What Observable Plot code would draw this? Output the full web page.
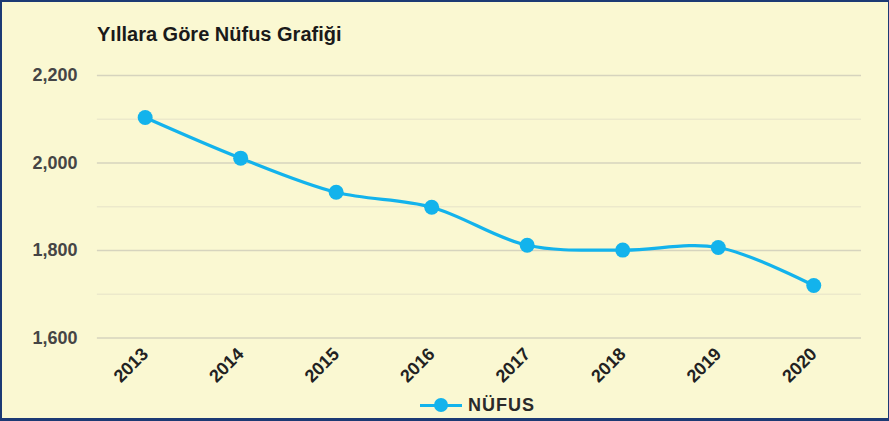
<!DOCTYPE html>
<html>
<head>
<meta charset="utf-8">
<script src="https://cdn.jsdelivr.net/npm/d3@7"></script>
<script src="https://cdn.jsdelivr.net/npm/@observablehq/plot@0.6"></script>
<style>
  html, body { margin: 0; padding: 0; background: #fff; }
  #frame {
    position: relative; width: 889px; height: 421px; box-sizing: border-box;
    background: #FAF8D2; border-top: 2px solid #1c3a74; border-left: 2px solid #1c3a74;
    border-bottom: 3px solid #1c3a74; border-right: 1px solid #1c3a74; overflow: hidden;
    font-family: Arial, "Liberation Sans", sans-serif;
  }
  #chart { position: absolute; left: -2px; top: -2px; }
  #title { position: absolute; left: 95px; top: 21px; font-size: 20px; font-weight: bold; color: #1a1a1a; line-height: 22px; white-space: nowrap; }
  #legend { position: absolute; left: 418px; top: 392px; height: 22px; display: flex; align-items: center; white-space: nowrap; }
  #legend .mk { position: relative; width: 42px; height: 16px; margin-right: 6px; }
  #legend .mk .ln { position: absolute; left: 0; right: 0; top: 6.5px; height: 3px; background: #13B3EC; }
  #legend .mk .dt { position: absolute; left: 14px; top: 1px; width: 14px; height: 14px; border-radius: 50%; background: #13B3EC; }
  #legend .tx { font-size: 18px; font-weight: bold; color: #2a2a2a; letter-spacing: 1px; }
</style>
</head>
<body>
<div id="frame">
  <div id="chart"></div>
  <div id="title">Yıllara Göre Nüfus Grafiği</div>
  <div id="legend"><div class="mk"><div class="ln"></div><div class="dt"></div></div><span class="tx">NÜFUS</span></div>
</div>
<script>
const years = [2013, 2014, 2015, 2016, 2017, 2018, 2019, 2020];
const population = [2104, 2011, 1933, 1899, 1812, 1801, 1807, 1720];
const majorTicks = [1600, 1800, 2000, 2200];
const minorTicks = [1700, 1900, 2100];
const seriesName = "NÜFUS";

const data = years.map((y, i) => ({year: y, value: population[i], series: seriesName}));
const color = "#13B3EC";

const chart = Plot.plot({
  width: 889,
  height: 421,
  marginLeft: 97,
  marginRight: 27,
  marginTop: 75,
  marginBottom: 83,
  style: {background: "transparent", fontFamily: "Arial, 'Liberation Sans', sans-serif", overflow: "visible"},
  x: {type: "linear", domain: [2012.5, 2020.5]},
  y: {domain: [1600, 2200]},
  marks: [
    Plot.ruleY(minorTicks, {stroke: "#ECE9CB", strokeWidth: 1.5}),
    Plot.ruleY(majorTicks, {stroke: "#D6D4BE", strokeWidth: 1.5}),
    Plot.axisY({ticks: majorTicks, tickSize: 0, tickPadding: 20, tickFormat: d3.format(","), fontSize: 18, fontWeight: "bold", fill: "#454545", label: null}),
    Plot.axisX({ticks: years, tickSize: 0, tickRotate: -45, tickPadding: 13, tickFormat: d => String(d), fontSize: 18, fontWeight: "bold", fill: "#222", label: null}),
    Plot.line(data, {x: "year", y: "value", curve: "catmull-rom", stroke: color, strokeWidth: 3.2}),
    Plot.dot(data, {x: "year", y: "value", r: 7.5, fill: color, stroke: "none"})
  ]
});
document.getElementById("chart").appendChild(chart);
</script>
</body>
</html>
